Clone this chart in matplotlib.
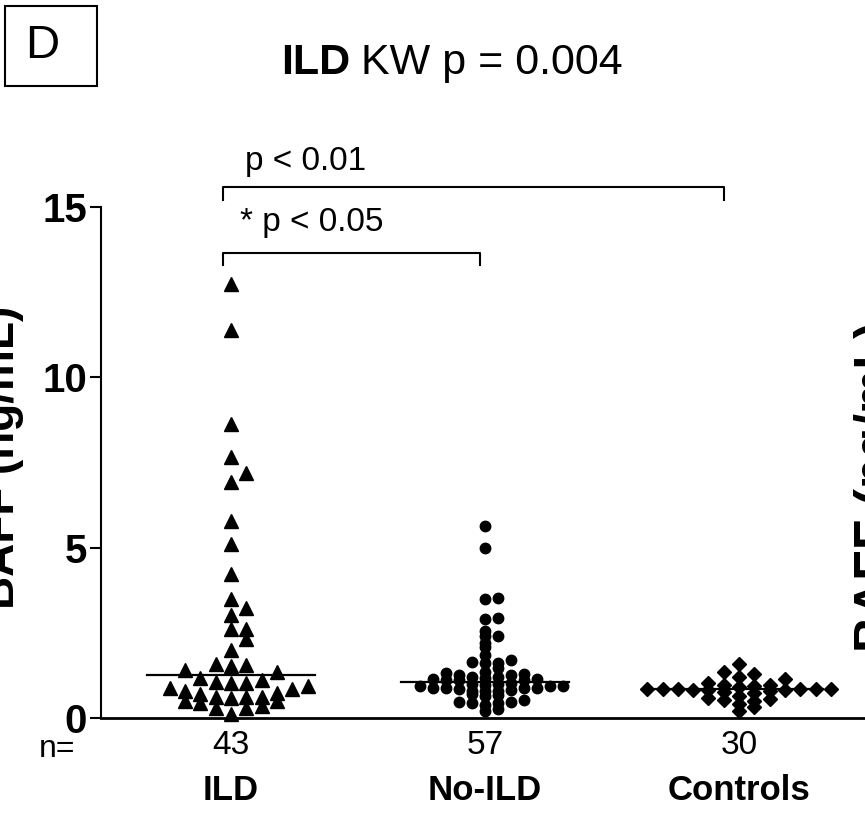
import numpy as np
import matplotlib
matplotlib.use("Agg")
import matplotlib.pyplot as plt
from matplotlib.patches import Rectangle

# BAFF values (ng/mL)
groups = ["ILD", "No-ILD", "Controls"]
n_labels = ["43", "57", "30"]
ild = [12.74, 11.39, 8.63, 7.67, 7.20, 6.92, 5.78, 5.10, 4.23, 3.49,
       3.22, 3.02, 2.61, 2.61, 2.32, 2.00, 1.58, 1.56, 1.53, 1.41,
       1.36, 1.16, 1.12, 1.07, 1.04, 1.04, 0.94, 0.89, 0.85, 0.80,
       0.72, 0.69, 0.63, 0.61, 0.61, 0.58, 0.51, 0.51, 0.43, 0.35,
       0.30, 0.28, 0.12]
no_ild = [5.64, 4.99, 3.52, 3.49, 2.94, 2.91, 2.56, 2.42, 2.40, 2.19,
          2.08, 1.84, 1.70, 1.64, 1.62, 1.62, 1.48, 1.36, 1.33, 1.28,
          1.25, 1.25, 1.19, 1.19, 1.18, 1.15, 1.15, 1.13, 1.12, 1.12,
          1.04, 1.00, 1.00, 0.97, 0.94, 0.94, 0.94, 0.88, 0.88, 0.88,
          0.88, 0.86, 0.83, 0.80, 0.80, 0.80, 0.69, 0.67, 0.66, 0.53,
          0.48, 0.48, 0.45, 0.44, 0.37, 0.25, 0.20]
controls = [1.58, 1.34, 1.28, 1.19, 1.14, 1.04, 0.97, 0.96, 0.95, 0.92,
            0.86, 0.85, 0.84, 0.84, 0.84, 0.84, 0.83, 0.82, 0.82, 0.80,
            0.76, 0.72, 0.65, 0.60, 0.56, 0.52, 0.50, 0.42, 0.32, 0.22]
medians = [1.26, 1.06, 0.84]
markers = ["^", "o", "D"]
msizes = [9.5, 7.5, 7]
bin_h = [0.45, 0.2, 0.25]       # height of a swarm row, data units
bin_off = [0.10, 0.15, 0.15]
col_px = [15.3, 13.0, 15.3]     # horizontal spacing inside a row, pixels

plt.rcParams["font.family"] = ["Liberation Sans", "DejaVu Sans"]

fig = plt.figure(figsize=(8.65, 8.15), dpi=100)
ax = fig.add_axes([101 / 865, 97 / 815, 780 / 865, 511 / 815])
ax.set_xlim(-130 / 254, 650 / 254)
ax.set_ylim(0, 15)

# pixels per x data unit
sx = ax.transData.transform((1, 0))[0] - ax.transData.transform((0, 0))[0]


def binned_swarm(vals, center, h, off, step_px):
    # GraphPad-like: group values in rows, spread each row from the centre out
    vals = np.asarray(vals)
    xs = np.full(len(vals), float(center))
    bins = np.floor((vals - off) / h)
    for b in np.unique(bins):
        idx = np.where(bins == b)[0]
        idx = idx[np.argsort(vals[idx], kind="stable")]
        for j, i in enumerate(idx):
            k = (j + 1) // 2 * (1 if j % 2 == 1 else -1)
            xs[i] = center + k * step_px / sx
    return xs


for i, vals in enumerate([ild, no_ild, controls]):
    xs = binned_swarm(vals, i, bin_h[i], bin_off[i], col_px[i])
    ax.plot(xs, vals, linestyle="none", marker=markers[i], ms=msizes[i],
            color="black", mec="black", clip_on=False, zorder=3)
    ax.plot([i - 0.33, i + 0.33], [medians[i], medians[i]], color="black",
            lw=1.6, zorder=4)

for s in ["top", "right"]:
    ax.spines[s].set_visible(False)
ax.spines["left"].set_linewidth(1.5)
ax.spines["bottom"].set_linewidth(2)
ax.set_yticks([0, 5, 10, 15])
ax.tick_params(axis="y", direction="out", length=8, width=1.5, labelsize=29, pad=2)
for lab in ax.get_yticklabels():
    lab.set_fontweight("bold")
ax.set_xticks([])

# n= row and group names
tr = ax.get_xaxis_transform()
ax.text(-0.755, -0.061, "n=", transform=tr, ha="left", va="center", fontsize=23, clip_on=False)
for i, g in enumerate(groups):
    ax.text(i, -0.053, n_labels[i], transform=tr, ha="center", va="center", fontsize=24)
    ax.text(i, -0.141, g, transform=tr, ha="center", va="center", fontsize=25,
            fontweight="bold")

# comparison brackets
ax.plot([-0.03, -0.03, 1.94, 1.94], [15.2, 15.59, 15.59, 15.2], color="black",
        lw=1.5, clip_on=False)
ax.text(0.055, 16.35, "p < 0.01", ha="left", va="center", fontsize=24)
ax.plot([-0.03, -0.03, 0.98, 0.98], [13.3, 13.65, 13.65, 13.3], color="black",
        lw=1.5, clip_on=False)
ax.text(0.035, 14.55, "* p < 0.05", ha="left", va="center", fontsize=24)

# panel letter and title
fig.patches.append(Rectangle((5 / 865, 1 - 86 / 815), 92 / 865, 80 / 815,
                             transform=fig.transFigure, fill=False, lw=1.5,
                             edgecolor="black"))
fig.text(42 / 865, 1 - 46 / 815, "D", ha="center", va="center", fontsize=34)
fig.text(281 / 865, 1 - 63 / 815, "ILD", ha="left", va="center", fontsize=31,
         fontweight="bold")
fig.text(361 / 865, 1 - 63 / 815, "KW p = 0.004", ha="left", va="center", fontsize=31)

# axis labels (left one and the neighbouring panel's, both cut by the edge)
fig.text(24 / 865, 1 - 457 / 815, "BAFF (ng/mL)", rotation=90, ha="right",
         va="center", fontsize=33, fontweight="bold")
fig.text(854 / 865, 1 - 487 / 815, "BAFF (ng/mL)", rotation=90, ha="left",
         va="center", fontsize=36, fontweight="bold")

fig.savefig("out.png", dpi=100)
